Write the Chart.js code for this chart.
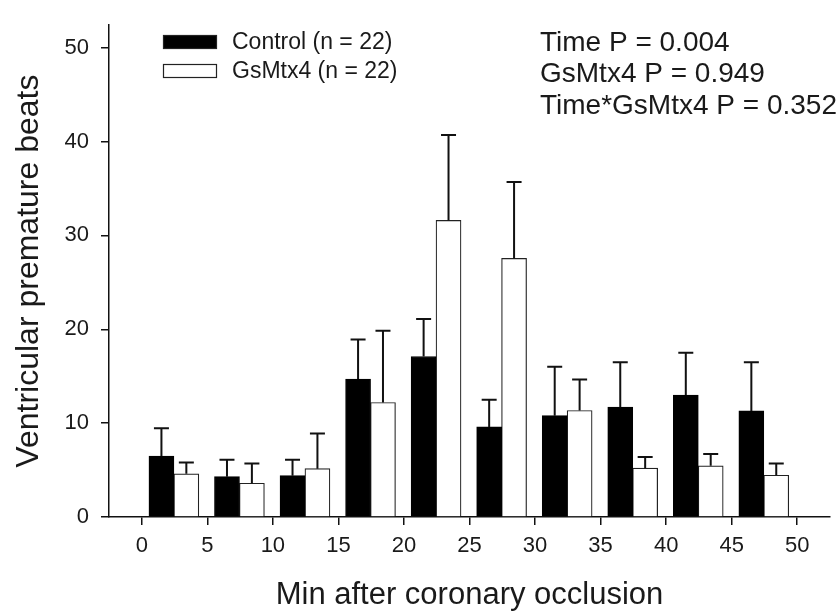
<!DOCTYPE html>
<html>
<head>
<meta charset="utf-8">
<script src="https://cdn.jsdelivr.net/npm/chart.js@4/dist/chart.umd.min.js"></script>
<style>
html,body{margin:0;padding:0;background:#fff;}
canvas{display:block;}
</style>
</head>
<body>
<canvas id="c" width="838" height="614"></canvas>
<script>
// ---- data ----
const binStarts = [0, 5, 10, 15, 20, 25, 30, 35, 40, 45];
const controlMean = [6.5, 4.3, 4.4, 14.7, 17.1, 9.6, 10.8, 11.7, 13.0, 11.3];
const controlSEM  = [2.95, 1.8, 1.7, 4.2, 4.0, 2.9, 5.2, 4.8, 4.5, 5.2];
const gsMean = [4.6, 3.6, 5.15, 12.2, 31.6, 27.55, 11.35, 5.2, 5.45, 4.45];
const gsSEM  = [1.2, 2.1, 3.75, 7.65, 9.1, 8.15, 3.3, 1.2, 1.25, 1.25];
const xTicks = [0, 5, 10, 15, 20, 25, 30, 35, 40, 45, 50];
const yTicks = [0, 10, 20, 30, 40, 50];
const seriesLabels = ['Control (n = 22)', 'GsMtx4 (n = 22)'];
const statLines = ['Time P = 0.004', 'GsMtx4 P = 0.949', 'Time*GsMtx4 P = 0.352'];
const xTitle = 'Min after coronary occlusion';
const yTitle = 'Ventricular premature beats';

const FONT = "'Liberation Sans', Arial, Helvetica, sans-serif";
const TXT = '#1a1a1a';

const errorBars = {
  id: 'errorBars',
  afterDatasetsDraw(chart) {
    const ctx = chart.ctx;
    const y = chart.scales.y;
    const sems = [controlSEM, gsSEM];
    ctx.save();
    ctx.strokeStyle = '#111';
    ctx.lineWidth = 2;
    chart.data.datasets.forEach((ds, di) => {
      const meta = chart.getDatasetMeta(di);
      meta.data.forEach((el, i) => {
        const v = ds.data[i].y;
        const top = y.getPixelForValue(v + sems[di][i]);
        const base = y.getPixelForValue(v);
        ctx.beginPath();
        ctx.moveTo(el.x, base);
        ctx.lineTo(el.x, top);
        ctx.moveTo(el.x - 7.5, top);
        ctx.lineTo(el.x + 7.5, top);
        ctx.stroke();
      });
    });
    ctx.restore();
  }
};

const overlay = {
  id: 'overlay',
  afterDraw(chart) {
    const ctx = chart.ctx;
    ctx.save();
    const ds = chart.data.datasets;
    const rows = [42, 71];
    ds.forEach((d, i) => {
      ctx.fillStyle = d.backgroundColor;
      ctx.strokeStyle = '#222';
      ctx.lineWidth = 1.2;
      ctx.fillRect(163, rows[i] - 7, 54, 14);
      ctx.strokeRect(163.5, rows[i] - 6.5, 53, 13);
      ctx.fillStyle = TXT;
      ctx.font = '23px ' + FONT;
      ctx.textBaseline = 'middle';
      ctx.textAlign = 'left';
      ctx.fillText(d.label, 232, rows[i] + 1);
    });
    ctx.font = '28px ' + FONT;
    ctx.fillStyle = TXT;
    ctx.textBaseline = 'middle';
    statLines.forEach((s, i) => ctx.fillText(s, 540, 43 + i * 31.6));
    ctx.restore();
  }
};

const axisCommon = {
  offset: false,
  grid: { offset: false, drawOnChartArea: false, color: '#111', lineWidth: 1.5, tickLength: 8 },
  border: { display: true, color: '#111', width: 1.5 },
};

new Chart(document.getElementById('c'), {
  type: 'bar',
  data: {
    datasets: [
      {
        label: seriesLabels[0],
        data: binStarts.map((b, i) => ({ x: b + 1.5, y: controlMean[i] })),
        backgroundColor: '#000',
        borderColor: '#000',
        borderWidth: 1,
        barThickness: 25,
        grouped: false
      },
      {
        label: seriesLabels[1],
        data: binStarts.map((b, i) => ({ x: b + 3.4, y: gsMean[i] })),
        backgroundColor: '#fff',
        borderColor: '#222',
        borderWidth: 1.2,
        barThickness: 25,
        grouped: false
      }
    ]
  },
  options: {
    responsive: false,
    animation: false,
    devicePixelRatio: 1,
    layout: { padding: { left: 0, right: 8, top: 12, bottom: 0 } },
    plugins: { legend: { display: false }, tooltip: { enabled: false } },
    scales: {
      x: Object.assign({}, axisCommon, {
        type: 'linear',
        min: -2.5,
        max: 52.5,
        afterBuildTicks: s => { s.ticks = xTicks.map(v => ({ value: v })); },
        afterFit: s => { s.height = 97; },
        ticks: { font: { family: FONT, size: 22 }, color: TXT, padding: 8, maxRotation: 0, autoSkip: false },
        title: { display: true, text: xTitle, font: { family: FONT, size: 31 }, color: TXT, padding: { top: 0, bottom: 0 } }
      }),
      y: Object.assign({}, axisCommon, {
        type: 'linear',
        min: 0,
        max: 52.4,
        afterBuildTicks: s => { s.ticks = yTicks.map(v => ({ value: v })); },
        afterFit: s => { s.width = 109; },
        ticks: { font: { family: FONT, size: 22 }, color: TXT, padding: 12, autoSkip: false },
        title: { display: true, text: yTitle, font: { family: FONT, size: 32 }, color: TXT, padding: { top: 10, bottom: 0 } }
      })
    }
  },
  plugins: [errorBars, overlay]
});
</script>
</body>
</html>
